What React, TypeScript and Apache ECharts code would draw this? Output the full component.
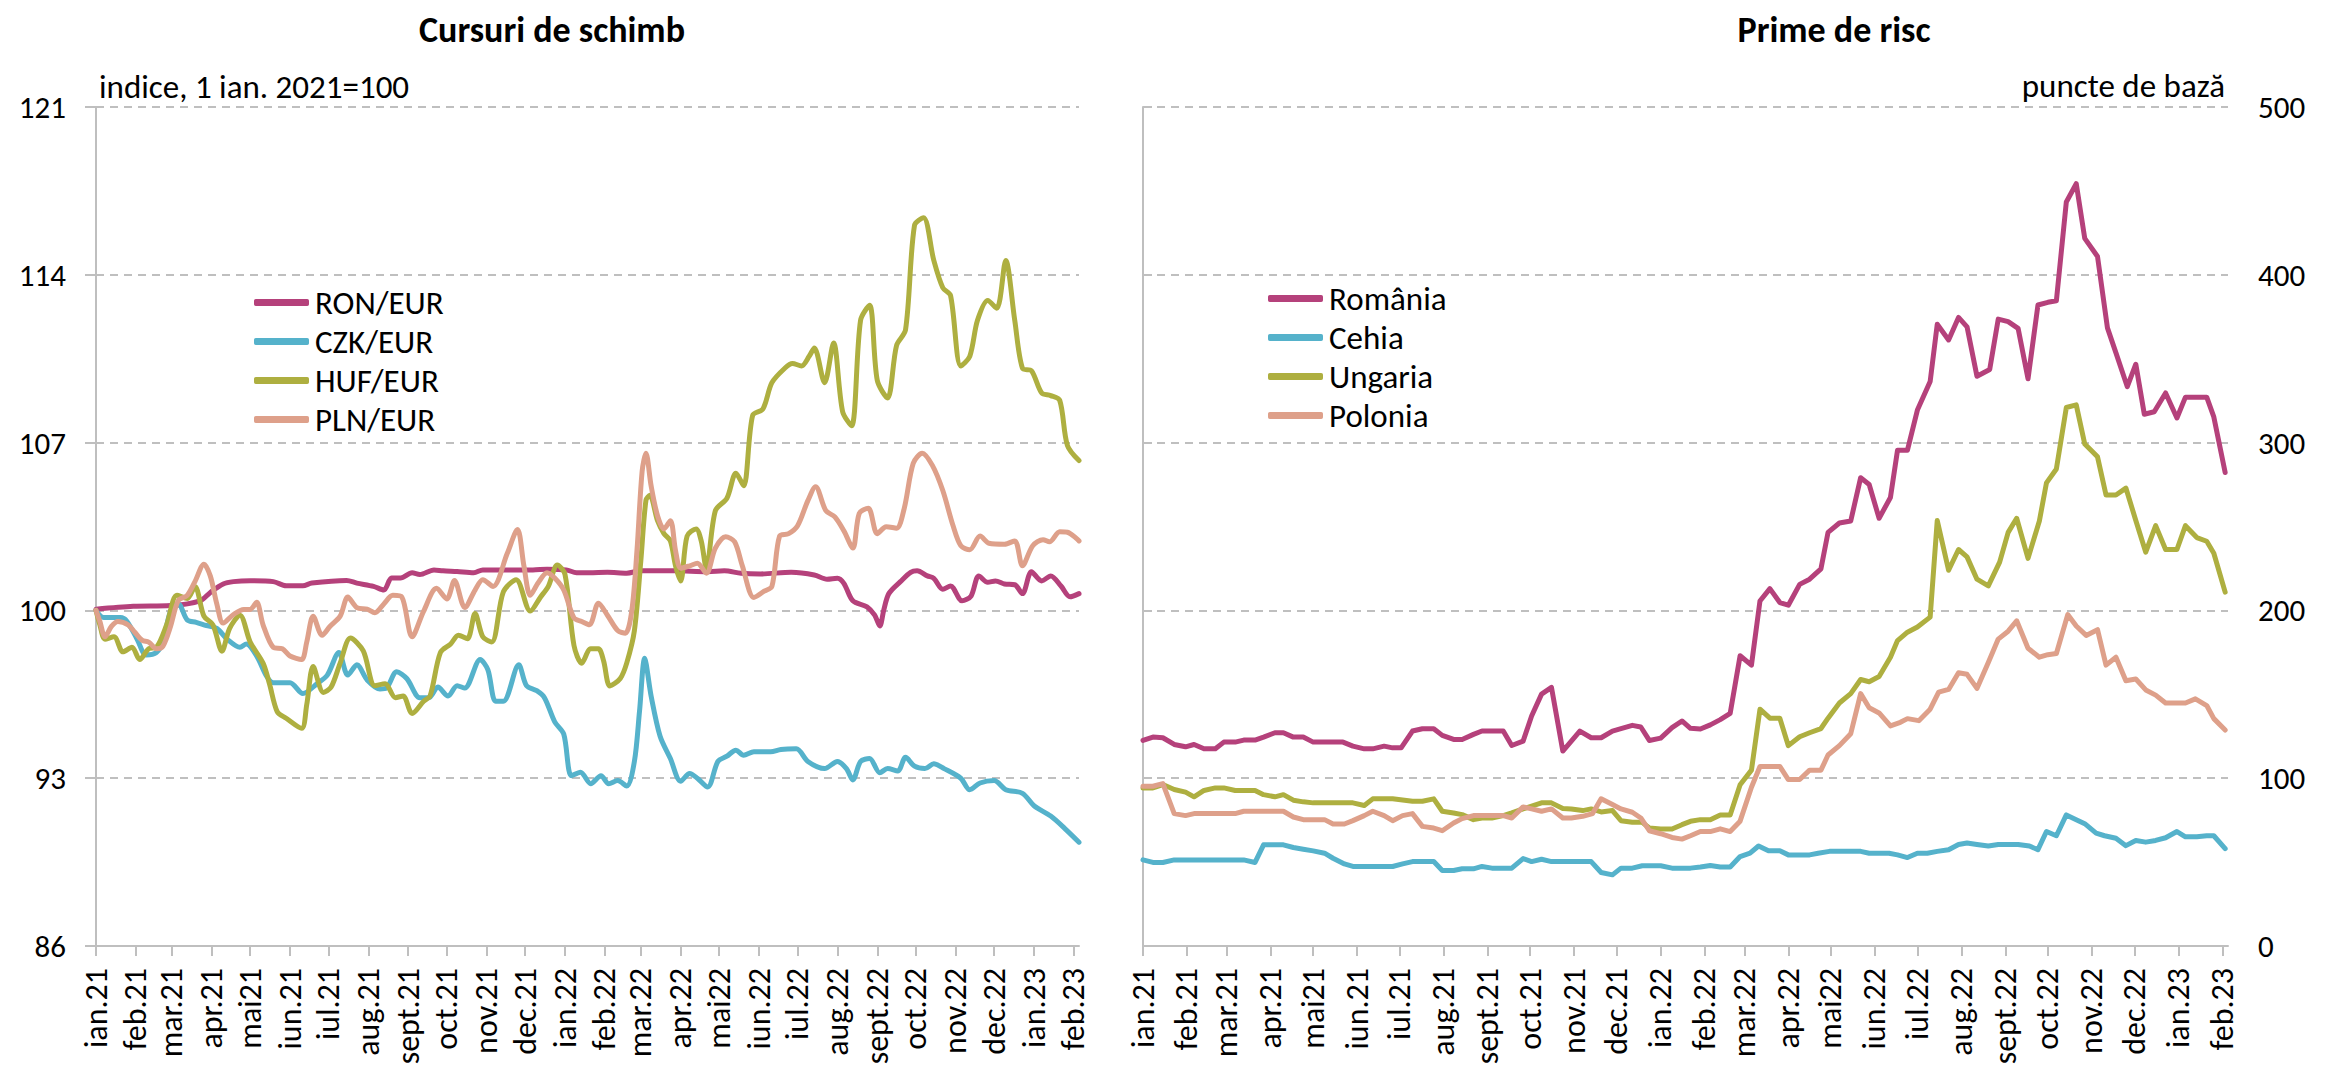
import React, { useEffect, useRef } from "react";
import * as echarts from "echarts";

const FONT = "Carlito, Calibri, Lato, 'Liberation Sans', sans-serif";

// Month ticks on both x axes (day offsets from 1 Jan 2021)
const monthLabels = [
  "ian.21", "feb.21", "mar.21", "apr.21", "mai21", "iun.21", "iul.21", "aug.21",
  "sept.21", "oct.21", "nov.21", "dec.21", "ian.22", "feb.22", "mar.22", "apr.22",
  "mai22", "iun.22", "iul.22", "aug.22", "sept.22", "oct.22", "nov.22", "dec.22",
  "ian.23", "feb.23",
];
const DAY_MS = 86400000;
const START = Date.UTC(2021, 0, 1);
const monthStarts = monthLabels.map((_, i) => Math.round((Date.UTC(2021, i, 1) - START) / DAY_MS));
const AXIS_END = 765;

// Exchange rates, index 1 Jan 2021 = 100 — [day, value]
const ronEur = [
  [0, 100.05], [29, 100.17], [58, 100.2], [81, 100.4], [89, 100.75], [99, 101.1], [107, 101.2],
  [120, 101.24], [138, 101.2], [148, 101.03], [161, 101.03], [168, 101.14], [195, 101.25],
  [203, 101.14], [216, 101.0], [224, 100.85], [230, 101.35], [237, 101.35], [246, 101.57],
  [252, 101.5], [263, 101.69], [270, 101.65], [281, 101.62], [294, 101.57], [301, 101.69],
  [320, 101.69], [340, 101.69], [351, 101.72], [366, 101.69], [374, 101.57], [384, 101.57],
  [398, 101.59], [413, 101.55], [424, 101.65], [450, 101.65], [476, 101.61], [489, 101.65],
  [502, 101.55], [517, 101.52], [541, 101.59], [559, 101.48], [569, 101.3], [577, 101.34],
  [582, 101.13], [589, 100.4], [600, 100.15], [606, 99.8], [610, 99.35], [613, 100.0],
  [617, 100.7], [626, 101.2], [634, 101.59], [639, 101.65], [647, 101.44], [652, 101.34],
  [659, 100.88], [665, 101.02], [674, 100.4], [681, 100.6], [687, 101.44], [694, 101.17],
  [700, 101.23], [707, 101.1], [715, 101.07], [721, 100.7], [728, 101.61], [736, 101.23],
  [743, 101.44], [751, 101.02], [758, 100.57], [765, 100.7],
];
const czkEur = [
  [0, 100], [6, 99.7], [19, 99.7], [24, 99.55], [32, 98.8], [39, 98.14], [47, 98.24], [52, 98.68],
  [58, 99.97], [64, 100.27], [71, 99.6], [78, 99.5], [86, 99.37], [94, 99.25], [102, 98.8],
  [112, 98.46], [117, 98.6], [125, 98.1], [133, 97.23], [138, 96.98], [151, 96.98], [161, 96.53],
  [172, 96.94], [180, 97.3], [189, 98.24], [196, 97.3], [203, 97.73], [211, 97.1], [221, 96.72],
  [226, 96.76], [234, 97.44], [242, 97.15], [252, 96.36], [259, 96.36], [266, 96.8], [274, 96.43],
  [281, 96.86], [287, 96.76], [299, 97.95], [305, 97.52], [311, 96.21], [317, 96.21], [329, 97.73],
  [335, 96.86], [343, 96.65], [349, 96.36], [357, 95.35], [364, 94.84], [370, 93.1], [377, 93.25],
  [385, 92.77], [393, 93.1], [399, 92.77], [406, 92.9], [413, 92.67], [419, 93.7], [423, 95.8],
  [427, 98.0], [432, 96.43], [439, 94.75], [447, 93.82], [455, 92.87], [462, 93.2], [468, 93.0],
  [476, 92.63], [484, 93.7], [491, 93.92], [498, 94.17], [504, 93.96], [512, 94.1], [525, 94.1],
  [533, 94.2], [545, 94.23], [554, 93.7], [567, 93.4], [577, 93.7], [584, 93.4], [589, 92.93],
  [595, 93.7], [602, 93.82], [610, 93.23], [616, 93.4], [624, 93.3], [630, 93.87], [637, 93.5],
  [645, 93.4], [652, 93.6], [660, 93.4], [673, 93.0], [680, 92.52], [688, 92.8], [699, 92.9],
  [708, 92.52], [721, 92.37], [730, 91.85], [743, 91.42], [754, 90.9], [765, 90.33],
];
const hufEur = [
  [0, 100], [3, 99.4], [7, 98.8], [14, 98.9], [21, 98.27], [28, 98.46], [34, 97.95], [41, 98.4],
  [47, 98.46], [55, 99.4], [63, 100.63], [71, 100.5], [77, 101.0], [84, 99.76], [91, 99.4],
  [98, 98.3], [104, 99.25], [112, 99.8], [120, 98.68], [130, 97.8], [135, 96.94], [141, 95.78],
  [148, 95.5], [160, 95.08], [164, 96.07], [169, 97.66], [177, 96.58], [183, 96.8], [190, 97.8],
  [198, 98.85], [208, 98.31], [217, 96.86], [225, 96.94], [233, 96.36], [239, 96.43], [246, 95.7],
  [255, 96.21], [260, 96.43], [268, 98.24], [276, 98.6], [282, 98.96], [289, 98.82], [295, 99.87],
  [301, 98.9], [308, 98.68], [317, 100.77], [327, 101.28], [338, 99.97], [346, 100.56], [352, 101.0],
  [359, 101.89], [365, 101.5], [372, 98.53], [378, 97.8], [385, 98.4], [391, 98.4], [395, 97.9],
  [400, 96.85], [408, 97.16], [413, 97.8], [419, 99.16], [424, 102.07], [428, 104.6], [431, 104.8],
  [437, 103.74], [442, 103.2], [447, 102.9], [451, 101.86], [455, 101.23], [460, 103.1],
  [467, 103.4], [471, 102.9], [475, 101.76], [482, 104.16], [491, 104.68], [498, 105.72],
  [504, 105.2], [511, 108.13], [519, 108.4], [526, 109.5], [536, 110.1], [542, 110.3], [549, 110.2],
  [555, 110.6], [559, 110.95], [567, 109.5], [574, 111.16], [581, 108.3], [588, 107.7], [595, 112.1],
  [602, 112.73], [608, 109.6], [616, 108.86], [623, 111.05], [630, 111.7], [637, 116.07],
  [644, 116.38], [652, 114.6], [659, 113.46], [665, 113.14], [673, 110.2], [680, 110.6],
  [686, 112.1], [694, 112.93], [701, 112.6], [708, 114.6], [715, 112.1], [721, 110.1], [728, 110.0],
  [736, 109.07], [743, 108.96], [750, 108.76], [756, 106.88], [765, 106.25],
];
const plnEur = [
  [0, 100], [3, 99.54], [7, 98.9], [12, 99.33], [17, 99.54], [25, 99.4], [30, 99.1], [36, 98.75],
  [41, 98.68], [47, 98.4], [52, 98.5], [58, 99.33], [64, 100.41], [71, 100.63], [77, 101.2],
  [84, 101.93], [89, 101.43], [94, 100.27], [99, 99.47], [107, 99.83], [115, 100.04], [120, 100.04],
  [125, 100.34], [130, 99.4], [138, 98.46], [145, 98.4], [151, 98.1], [160, 97.95], [164, 98.68],
  [169, 99.76], [176, 98.96], [182, 99.33], [190, 99.76], [196, 100.56], [203, 100.12],
  [211, 100.05], [217, 99.9], [224, 100.27], [231, 100.63], [238, 100.56], [246, 98.9],
  [255, 99.97], [265, 100.92], [273, 100.48], [279, 101.25], [287, 100.12], [295, 100.85],
  [301, 101.28], [309, 101.0], [320, 102.37], [328, 103.38], [333, 101.86], [338, 100.63],
  [344, 101.14], [351, 101.57], [357, 101.35], [364, 100.85], [372, 99.68], [378, 99.54],
  [384, 99.4], [391, 100.3], [398, 99.8], [406, 99.16], [412, 99.05], [417, 100.0], [421, 102.5],
  [425, 105.8], [428, 106.56], [432, 105.2], [437, 103.95], [442, 103.4], [447, 103.74],
  [451, 102.5], [455, 101.76], [462, 101.86], [468, 101.97], [475, 101.55], [482, 102.6],
  [490, 103.07], [497, 102.86], [503, 101.86], [512, 100.54], [520, 100.8], [526, 101.0],
  [532, 103.1], [539, 103.2], [546, 103.53], [554, 104.58], [560, 105.16], [568, 104.16],
  [575, 103.9], [582, 103.32], [589, 102.6], [594, 104.05], [601, 104.26], [608, 103.2],
  [615, 103.49], [623, 103.43], [629, 104.26], [636, 106.14], [643, 106.56], [651, 106.04],
  [659, 105.0], [667, 103.53], [673, 102.7], [680, 102.53], [688, 103.1], [695, 102.8],
  [707, 102.76], [715, 102.9], [721, 101.86], [729, 102.7], [737, 102.95], [742, 102.86],
  [750, 103.28], [756, 103.26], [765, 102.9],
];

// Risk premia, basis points — [day, value]
const romania = [
  [0, 122.5], [7, 124.5], [14, 124.1], [22, 120.1], [30, 118.7], [36, 120.1], [43, 117.5], [51, 117.5],
  [57, 121.5], [65, 121.5], [71, 122.7], [79, 122.7], [85, 124.5], [93, 127.1], [99, 127.1],
  [106, 124.5], [113, 124.5], [120, 121.5], [128, 121.5], [141, 121.5], [148, 119.1], [156, 117.5],
  [162, 117.5], [170, 119.1], [176, 118.1], [182, 118.1], [190, 128.1], [197, 129.5], [205, 129.5],
  [211, 125.5], [219, 123.1], [225, 123.1], [233, 126.1], [239, 128.1], [246, 128.1], [254, 128.1],
  [260, 119.5], [268, 122.1], [274, 137.1], [281, 150.1], [288, 154.1], [296, 116.2], [302, 122.1],
  [308, 128.1], [316, 124.1], [323, 124.1], [331, 128.1], [337, 129.5], [345, 131.5], [351, 130.5],
  [357, 122.5], [365, 123.9], [373, 130.1], [380, 134.1], [386, 129.7], [393, 129.3], [400, 131.8],
  [407, 134.9], [414, 138.6], [421, 173.0], [429, 167.4], [435, 205.6], [442, 213.0], [449, 204.7],
  [455, 203.1], [463, 215.5], [470, 218.6], [478, 224.8], [483, 246.5], [491, 252.1], [499, 253.3],
  [506, 279.1], [512, 275.0], [519, 254.9], [527, 267.3], [532, 295.5], [539, 295.5], [546, 319.4],
  [555, 336.4], [560, 370.5], [568, 361.2], [575, 374.6], [581, 369.0], [588, 339.5], [597, 343.6],
  [603, 373.6], [610, 372.1], [617, 368.1], [624, 338.0], [631, 382.0], [638, 383.6], [644, 384.5],
  [651, 443.4], [658, 454.3], [664, 421.7], [673, 410.9], [680, 368.4], [686, 353.5], [694, 333.3],
  [700, 346.7], [706, 316.9], [713, 318.4], [721, 329.6], [729, 314.7], [735, 327.1], [743, 327.1],
  [750, 327.1], [755, 315.3], [763, 282.2],
];
const cehia = [
  [0, 51.3], [7, 49.8], [14, 49.8], [22, 51.3], [30, 51.3], [71, 51.3], [79, 49.8], [85, 60.3],
  [93, 60.3], [99, 60.3], [106, 58.7], [113, 57.7], [120, 56.7], [128, 55.3], [134, 52.3], [142, 48.9],
  [148, 47.4], [176, 47.4], [183, 48.9], [190, 50.3], [205, 50.3], [211, 45.0], [219, 45.0],
  [225, 46.0], [233, 46.0], [239, 47.4], [246, 46.4], [260, 46.4], [268, 52.1], [274, 50.3],
  [281, 51.7], [288, 50.3], [316, 50.3], [323, 43.8], [331, 42.4], [337, 46.4], [345, 46.4],
  [352, 47.8], [365, 47.8], [373, 46.4], [386, 46.4], [393, 47.1], [400, 48.0], [407, 47.1],
  [414, 47.1], [421, 53.3], [428, 55.3], [434, 59.6], [441, 56.7], [449, 56.7], [455, 54.3],
  [470, 54.3], [476, 55.3], [484, 56.4], [506, 56.4], [512, 55.3], [526, 55.3], [532, 54.3],
  [539, 52.7], [546, 55.3], [553, 55.3], [560, 56.4], [568, 57.4], [575, 60.5], [581, 61.4],
  [588, 60.5], [596, 59.6], [603, 60.5], [617, 60.5], [625, 59.6], [631, 57.4], [637, 68.2],
  [644, 65.7], [651, 78.1], [658, 75.3], [664, 72.9], [672, 67.3], [678, 65.7], [686, 64.2],
  [693, 59.8], [700, 62.9], [707, 61.9], [714, 62.9], [721, 64.5], [729, 68.2], [735, 65.1],
  [743, 65.1], [750, 65.7], [755, 65.7], [763, 58.0],
];
const ungaria = [
  [0, 94.2], [7, 94.2], [14, 96.2], [22, 93.3], [30, 91.7], [36, 88.9], [43, 92.7], [51, 94.2],
  [57, 94.2], [65, 92.7], [79, 92.7], [85, 90.2], [93, 88.9], [99, 90.2], [106, 86.9], [113, 85.9],
  [120, 85.3], [148, 85.3], [156, 83.7], [162, 87.7], [176, 87.7], [190, 86.3], [197, 86.3],
  [205, 87.7], [211, 80.3], [219, 79.3], [225, 78.3], [233, 75.3], [239, 76.3], [246, 76.3],
  [254, 77.7], [260, 79.3], [268, 81.7], [274, 83.3], [281, 85.3], [288, 85.3], [296, 81.9],
  [302, 81.7], [310, 80.7], [316, 81.7], [323, 79.9], [331, 80.7], [337, 74.7], [345, 73.7],
  [352, 73.7], [357, 70.3], [365, 69.7], [373, 69.7], [380, 72.3], [386, 74.3], [393, 75.3],
  [400, 75.3], [407, 78.1], [414, 78.1], [421, 96.1], [429, 104.8], [435, 141.1], [442, 135.8],
  [449, 135.8], [455, 119.4], [463, 124.7], [470, 127.1], [478, 129.6], [483, 135.8], [491, 144.8],
  [499, 150.4], [506, 158.8], [512, 157.5], [519, 160.6], [527, 172.1], [532, 182.0], [539, 187.0],
  [546, 190.1], [555, 196.0], [560, 253.6], [568, 223.9], [575, 236.3], [581, 231.9], [588, 218.6],
  [596, 214.6], [604, 228.8], [610, 246.5], [616, 254.9], [624, 231.0], [632, 253.3], [637, 276.0],
  [644, 284.3], [651, 320.9], [658, 322.5], [664, 299.2], [673, 291.5], [679, 268.8], [686, 268.8],
  [693, 272.9], [700, 253.6], [707, 234.7], [714, 250.5], [721, 236.3], [729, 236.3], [735, 250.5],
  [743, 243.4], [750, 241.2], [755, 234.1], [763, 210.9],
];
const polonia = [
  [0, 95.2], [7, 95.2], [14, 96.8], [22, 78.9], [30, 77.7], [36, 78.9], [65, 78.9], [71, 80.3],
  [99, 80.3], [106, 76.9], [113, 75.3], [128, 75.3], [134, 72.7], [142, 72.7], [148, 74.7],
  [156, 77.7], [162, 80.3], [170, 77.7], [176, 74.7], [183, 77.7], [190, 78.9], [197, 71.3],
  [205, 70.3], [211, 68.7], [219, 73.3], [225, 75.9], [233, 77.7], [254, 77.7], [260, 76.3],
  [268, 82.9], [274, 81.7], [281, 80.3], [288, 81.7], [296, 76.3], [302, 76.3], [310, 77.3],
  [317, 78.9], [323, 87.7], [331, 84.3], [337, 81.7], [345, 79.7], [351, 76.3], [357, 68.7],
  [365, 66.9], [373, 64.7], [380, 63.7], [386, 65.7], [393, 68.2], [400, 68.2], [407, 69.8],
  [414, 68.2], [421, 74.4], [429, 94.6], [435, 107.0], [442, 107.0], [449, 107.0], [455, 99.2],
  [463, 99.2], [470, 104.8], [478, 104.8], [483, 113.8], [491, 119.4], [499, 126.5], [506, 150.4],
  [512, 142.0], [519, 138.9], [527, 131.2], [534, 133.3], [539, 135.5], [547, 134.3], [555, 141.1],
  [561, 151.3], [568, 152.9], [575, 162.8], [581, 161.9], [588, 153.5], [596, 169.0], [603, 182.9],
  [610, 187.6], [616, 193.8], [624, 177.4], [632, 172.1], [638, 173.6], [644, 174.3], [652, 197.5],
  [658, 190.7], [665, 185.1], [673, 188.5], [679, 167.4], [686, 172.1], [693, 158.1], [700, 159.1],
  [707, 152.6], [714, 149.5], [721, 144.8], [728, 144.8], [735, 144.8], [742, 147.3], [750, 143.3],
  [755, 135.5], [763, 128.7],
];

const COLORS = {
  ro: "#B5417B",
  cz: "#55B2CB",
  hu: "#AEAF40",
  pl: "#DEA08A",
};

const GRAY = "#BFBFBF";
const axisLineStyle = { color: GRAY, width: 2 };
const dashedGrid = { show: true, lineStyle: { color: GRAY, width: 2, type: [8, 6] } };
const tickText = { fontFamily: FONT, fontSize: 31, color: "#000" };

function monthAxis(gridIndex: number) {
  return {
    type: "value",
    gridIndex,
    min: 0,
    max: AXIS_END,
    axisLine: { show: true, onZero: false, lineStyle: axisLineStyle },
    axisTick: { show: true, customValues: monthStarts, length: 10, inside: false, lineStyle: axisLineStyle },
    axisLabel: {
      show: true,
      customValues: monthStarts,
      rotate: 90,
      margin: 22,
      fontFamily: FONT,
      fontSize: 32,
      color: "#000",
      formatter: (v: number) => {
        const i = monthStarts.indexOf(Math.round(v));
        return i >= 0 ? monthLabels[i] : "";
      },
    },
    splitLine: { show: false },
  };
}

function lineSeries(name: string, data: number[][], color: string, gi: number, smooth: number | boolean) {
  return {
    name,
    type: "line",
    xAxisIndex: gi,
    yAxisIndex: gi,
    data,
    smooth,
    symbol: "none",
    showSymbol: false,
    color,
    lineStyle: { color, width: 5, cap: "round", join: "round" },
    emphasis: { disabled: true },
  };
}

function legendBlock(names: string[], left: number, top: number) {
  return {
    data: names,
    orient: "vertical",
    left,
    top,
    icon: "roundRect",
    itemWidth: 55,
    itemHeight: 7,
    itemGap: 6,
    selectedMode: false,
    textStyle: { fontFamily: FONT, fontSize: 33, color: "#000", padding: [0, 0, 0, 1] },
  };
}

export default function App() {
  const ref = useRef<HTMLDivElement>(null);

  useEffect(() => {
    if (!ref.current) return;
    const chart = echarts.init(ref.current, null, { renderer: "svg" });
    chart.setOption({
      animation: false,
      backgroundColor: "#ffffff",
      grid: [
        { left: 96, top: 107, width: 983, height: 839, outerBoundsMode: "none" },
        { left: 1143, top: 107, width: 1085, height: 839, outerBoundsMode: "none" },
      ],
      xAxis: [monthAxis(0), monthAxis(1)],
      yAxis: [
        {
          type: "value",
          gridIndex: 0,
          position: "left",
          min: 86,
          max: 121,
          interval: 7,
          axisLine: { show: true, lineStyle: axisLineStyle },
          axisTick: { show: true, length: 11, lineStyle: axisLineStyle },
          axisLabel: { margin: 30, ...tickText },
          splitLine: dashedGrid,
        },
        {
          type: "value",
          gridIndex: 1,
          position: "right",
          min: 0,
          max: 500,
          interval: 100,
          axisLine: { show: true, lineStyle: axisLineStyle },
          axisTick: { show: true, length: 9, lineStyle: axisLineStyle },
          axisLabel: { margin: 30, ...tickText },
          splitLine: dashedGrid,
        },
      ],
      legend: [
        legendBlock(["RON/EUR", "CZK/EUR", "HUF/EUR", "PLN/EUR"], 249, 281),
        legendBlock(["România", "Cehia", "Ungaria", "Polonia"], 1263, 277),
      ],
      graphic: [
        {
          type: "text",
          x: 552,
          y: 30,
          style: {
            text: "Cursuri de schimb",
            font: `bold 36px ${FONT}`,
            fill: "#000",
            align: "center",
            verticalAlign: "middle",
          },
        },
        {
          type: "text",
          x: 1834,
          y: 30,
          style: {
            text: "Prime de risc",
            font: `bold 36px ${FONT}`,
            fill: "#000",
            align: "center",
            verticalAlign: "middle",
          },
        },
        {
          type: "text",
          x: 99,
          y: 87,
          style: {
            text: "indice, 1 ian. 2021=100",
            font: `33px ${FONT}`,
            fill: "#000",
            align: "left",
            verticalAlign: "middle",
          },
        },
        {
          type: "text",
          x: 2225,
          y: 86,
          style: {
            text: "puncte de bază",
            font: `33px ${FONT}`,
            fill: "#000",
            align: "right",
            verticalAlign: "middle",
          },
        },
      ],
      series: [
        lineSeries("RON/EUR", ronEur, COLORS.ro, 0, 0.3),
        lineSeries("CZK/EUR", czkEur, COLORS.cz, 0, 0.3),
        lineSeries("HUF/EUR", hufEur, COLORS.hu, 0, 0.3),
        lineSeries("PLN/EUR", plnEur, COLORS.pl, 0, 0.3),
        lineSeries("România", romania, COLORS.ro, 1, false),
        lineSeries("Cehia", cehia, COLORS.cz, 1, false),
        lineSeries("Ungaria", ungaria, COLORS.hu, 1, false),
        lineSeries("Polonia", polonia, COLORS.pl, 1, false),
      ],
    });
    return () => chart.dispose();
  }, []);

  return (
    <div
      ref={ref}
      style={{ position: "absolute", left: 0, top: 0, width: 2333, height: 1070 }}
    />
  );
}
